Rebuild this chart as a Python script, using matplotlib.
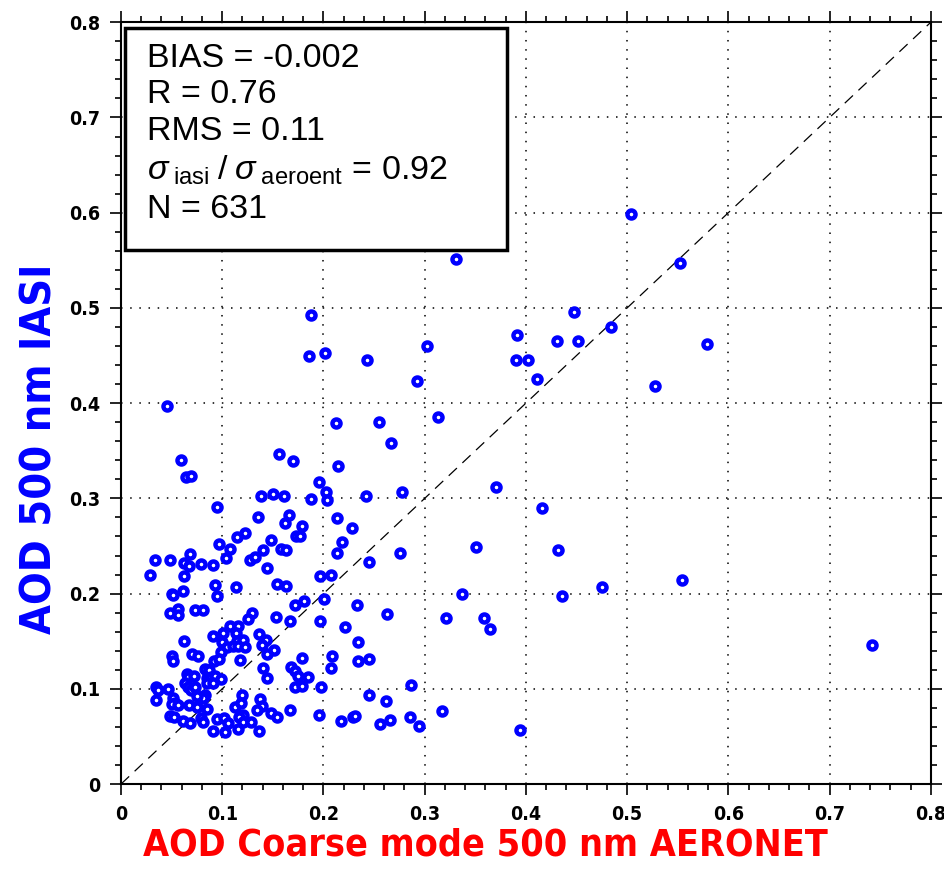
import matplotlib
matplotlib.use("Agg")
import matplotlib.pyplot as plt
from matplotlib.patches import Rectangle
from matplotlib.ticker import MultipleLocator, FixedLocator, FixedFormatter

# AOD coarse mode 500 nm AERONET (x) vs AOD 500 nm IASI (y)
aeronet = [
    0.504, 0.331, 0.552, 0.188, 0.186, 0.202, 0.243, 0.302, 0.292, 0.313,
    0.045, 0.212, 0.255, 0.267, 0.059, 0.064, 0.069, 0.156, 0.170, 0.214,
    0.196, 0.203, 0.204, 0.242, 0.278, 0.138, 0.150, 0.161, 0.188, 0.095,
    0.448, 0.484, 0.391, 0.431, 0.451, 0.579, 0.390, 0.402, 0.411, 0.528,
    0.370, 0.416, 0.351, 0.432, 0.475, 0.554, 0.337, 0.436, 0.321, 0.359,
    0.365, 0.742, 0.287, 0.286, 0.294, 0.317, 0.394,
    0.166, 0.162, 0.179, 0.173, 0.177, 0.148, 0.213, 0.228, 0.218, 0.213,
    0.158, 0.163, 0.245, 0.276, 0.197, 0.207,
    0.154, 0.163, 0.172, 0.181, 0.201, 0.233, 0.263, 0.153, 0.167, 0.197,
    0.221, 0.234, 0.151, 0.179, 0.208, 0.207, 0.234, 0.245, 0.168, 0.172,
    0.175, 0.185, 0.172, 0.179, 0.198, 0.245, 0.262, 0.167, 0.196, 0.148,
    0.154, 0.217, 0.229, 0.231, 0.256, 0.266,
    0.135, 0.115, 0.123, 0.097, 0.108, 0.068, 0.104, 0.034, 0.048, 0.062,
    0.067, 0.079, 0.091, 0.127, 0.132, 0.140, 0.144, 0.029, 0.062,
    0.093, 0.114, 0.050, 0.051, 0.061, 0.095, 0.048, 0.056, 0.056, 0.073,
    0.081, 0.129, 0.125, 0.108, 0.116, 0.101, 0.114, 0.091, 0.136, 0.062,
    0.143, 0.100, 0.115, 0.121, 0.105, 0.111, 0.116, 0.123, 0.139, 0.144,
    0.070, 0.076, 0.050, 0.051, 0.099, 0.092, 0.097, 0.118, 0.140, 0.144,
    0.065, 0.066, 0.072, 0.083, 0.087, 0.085, 0.089, 0.093, 0.085, 0.091,
    0.099, 0.063, 0.066, 0.069, 0.035, 0.037, 0.046, 0.073, 0.083, 0.081,
    0.075, 0.120, 0.035, 0.051, 0.053, 0.050, 0.056, 0.067, 0.075, 0.085,
    0.113, 0.119, 0.137, 0.139, 0.134, 0.048, 0.052, 0.121, 0.079, 0.081,
    0.061, 0.068, 0.095, 0.102, 0.106, 0.117, 0.121, 0.128, 0.091, 0.103,
    0.116, 0.136,
]
iasi = [
    0.599, 0.551, 0.547, 0.493, 0.450, 0.453, 0.445, 0.460, 0.423, 0.385,
    0.397, 0.379, 0.380, 0.358, 0.340, 0.322, 0.324, 0.347, 0.339, 0.334,
    0.317, 0.307, 0.298, 0.303, 0.307, 0.303, 0.305, 0.303, 0.299, 0.291,
    0.496, 0.480, 0.472, 0.465, 0.465, 0.462, 0.445, 0.445, 0.425, 0.418,
    0.312, 0.290, 0.249, 0.246, 0.207, 0.214, 0.200, 0.197, 0.174, 0.174,
    0.163, 0.146, 0.104, 0.070, 0.061, 0.077, 0.057,
    0.283, 0.274, 0.271, 0.260, 0.260, 0.256, 0.279, 0.269, 0.254, 0.243,
    0.247, 0.246, 0.233, 0.243, 0.218, 0.220,
    0.210, 0.208, 0.188, 0.192, 0.194, 0.188, 0.179, 0.175, 0.171, 0.171,
    0.165, 0.149, 0.141, 0.132, 0.135, 0.122, 0.129, 0.131, 0.123, 0.119,
    0.114, 0.112, 0.102, 0.103, 0.102, 0.094, 0.087, 0.078, 0.073, 0.075,
    0.070, 0.066, 0.070, 0.071, 0.063, 0.067,
    0.280, 0.259, 0.264, 0.252, 0.247, 0.242, 0.237, 0.235, 0.235, 0.232,
    0.229, 0.231, 0.230, 0.235, 0.238, 0.246, 0.227, 0.220, 0.218,
    0.209, 0.207, 0.200, 0.199, 0.203, 0.198, 0.180, 0.184, 0.178, 0.183,
    0.183, 0.180, 0.173, 0.166, 0.166, 0.159, 0.159, 0.156, 0.158, 0.150,
    0.151, 0.149, 0.150, 0.151, 0.144, 0.145, 0.145, 0.144, 0.146, 0.137,
    0.137, 0.134, 0.135, 0.129, 0.139, 0.129, 0.131, 0.130, 0.122, 0.111,
    0.116, 0.112, 0.114, 0.121, 0.120, 0.111, 0.112, 0.114, 0.106, 0.106,
    0.110, 0.106, 0.102, 0.099, 0.102, 0.099, 0.100, 0.102, 0.094, 0.090,
    0.092, 0.094, 0.088, 0.090, 0.085, 0.084, 0.083, 0.083, 0.081, 0.079,
    0.081, 0.085, 0.089, 0.082, 0.078, 0.072, 0.070, 0.073, 0.069, 0.065,
    0.066, 0.064, 0.068, 0.069, 0.064, 0.070, 0.065, 0.065, 0.056, 0.055,
    0.058, 0.056,
]

tick_vals = [0, 0.1, 0.2, 0.3, 0.4, 0.5, 0.6, 0.7, 0.8]
tick_labels = ["0", "0.1", "0.2", "0.3", "0.4", "0.5", "0.6", "0.7", "0.8"]

stats_lines = [
    "BIAS = -0.002",
    "R = 0.76",
    "RMS = 0.11",
    r"$\sigma_{\;\mathrm{iasi}}\;/\;\sigma_{\;\mathrm{aeroent}}$ = 0.92",
    "N = 631",
]

plt.rcParams["mathtext.fontset"] = "custom"
plt.rcParams["mathtext.rm"] = "Liberation Sans"
plt.rcParams["mathtext.it"] = "Liberation Sans:italic"

cond = "DejaVu Sans"

fig = plt.figure(figsize=(9.45, 8.89), dpi=100)
ax = fig.add_axes([0.128, 0.118, 0.857, 0.857])

ax.set_xlim(0, 0.8)
ax.set_ylim(0, 0.8)

# 1:1 line
ax.plot([0, 0.8], [0, 0.8], color="black", lw=0.9, ls=(0, (9, 6)), zorder=2)

ax.plot(aeronet, iasi, ls="none", marker="o", ms=5.8, mfc="white",
        mec="blue", mew=3.2, zorder=3, clip_on=False)

ax.xaxis.set_major_locator(FixedLocator(tick_vals))
ax.yaxis.set_major_locator(FixedLocator(tick_vals))
ax.xaxis.set_major_formatter(FixedFormatter(tick_labels))
ax.yaxis.set_major_formatter(FixedFormatter(tick_labels))
ax.xaxis.set_minor_locator(MultipleLocator(0.02))
ax.yaxis.set_minor_locator(MultipleLocator(0.02))

ax.tick_params(which="both", direction="out", top=True, right=True, width=1.2)
ax.tick_params(which="major", length=8, pad=7)
ax.tick_params(which="minor", length=4)
for lab in ax.get_xticklabels() + ax.get_yticklabels():
    lab.set_family(cond)
    lab.set_stretch("condensed")
    lab.set_fontweight("bold")
    lab.set_fontsize(14)

for sp in ax.spines.values():
    sp.set_linewidth(1.5)

ax.grid(True, which="major", color="black", ls=(0, (1, 5)), lw=1.1)

ax.set_xlabel("AOD Coarse mode 500 nm AERONET", color="red", fontsize=27,
              fontweight="bold", family=cond, fontstretch="condensed")
ax.xaxis.set_label_coords(0.45, -0.081)
ax.xaxis.label.set_va("center")
ax.set_ylabel("AOD 500 nm IASI", color="blue", fontsize=31,
              fontweight="bold", family=cond, fontstretch="condensed")
ax.yaxis.set_label_coords(-0.1, 0.44)
ax.yaxis.label.set_va("center")

# statistics box
box = Rectangle((0.005, 0.701), 0.472, 0.292, transform=ax.transAxes,
                facecolor="white", edgecolor="black", lw=2.5, zorder=5)
ax.add_patch(box)
ys = [0.941, 0.894, 0.845, 0.793, 0.743]
for s, y in zip(stats_lines, ys):
    ax.text(0.032, y, s, transform=ax.transAxes, fontsize=24.5,
            family="Liberation Sans", va="baseline", ha="left", zorder=6)

fig.savefig("out.png", dpi=100)
